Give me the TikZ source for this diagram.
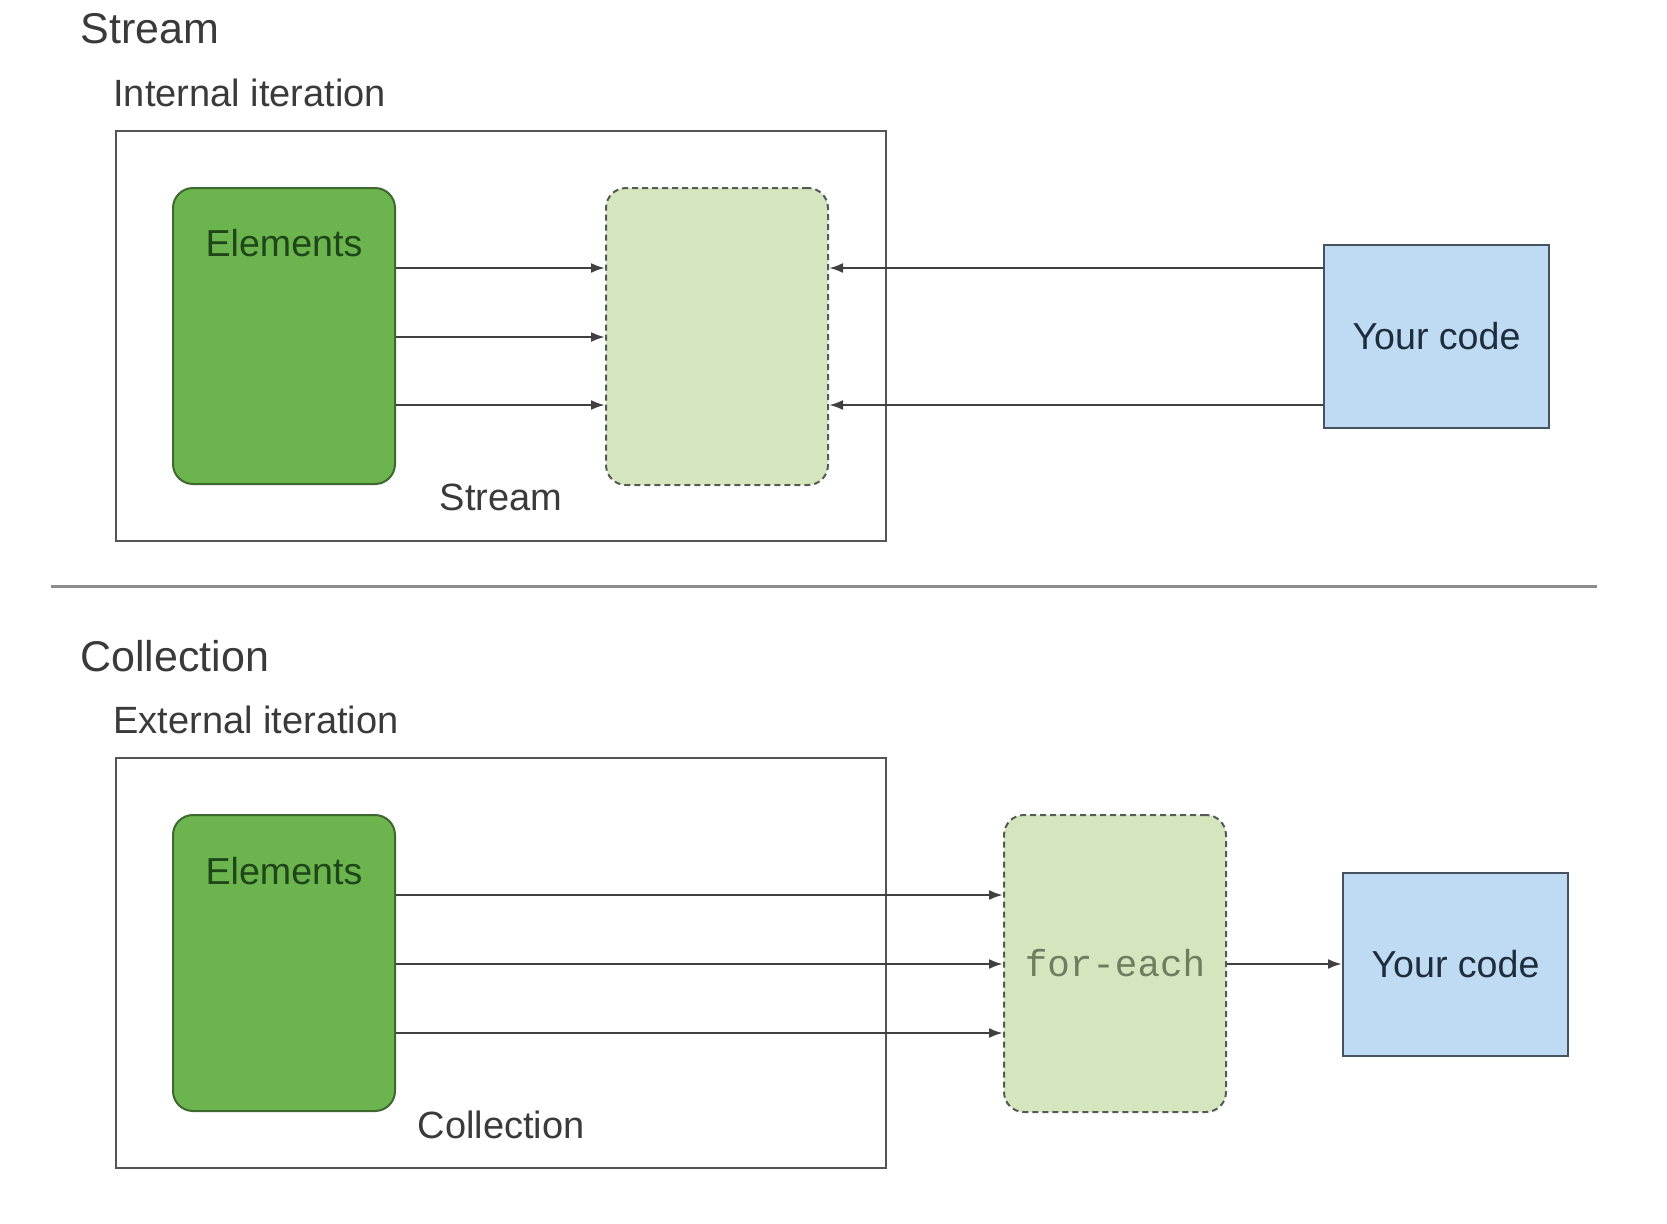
\documentclass[tikz,border=0pt]{standalone}
\usepackage{fontspec}
\setmainfont{Liberation Sans}
\newfontfamily\monof{Liberation Mono}
\usetikzlibrary{arrows.meta}
\definecolor{txt}{RGB}{58,58,58}
\definecolor{elfill}{RGB}{108,180,78}
\definecolor{eldraw}{RGB}{62,104,48}
\definecolor{eltext}{RGB}{30,70,25}
\definecolor{dsfill}{RGB}{213,229,190}
\definecolor{dsdraw}{RGB}{85,90,85}
\definecolor{ycfill}{RGB}{191,219,243}
\definecolor{ycdraw}{RGB}{70,82,95}
\definecolor{yctext}{RGB}{30,45,60}
\definecolor{boxdraw}{RGB}{85,85,85}
\definecolor{sepcol}{RGB}{140,140,140}
\definecolor{fetext}{RGB}{110,125,95}
\tikzset{
  title/.style={anchor=west,inner sep=0pt,text=txt,font=\fontsize{21.5pt}{24pt}\selectfont},
  subtitle/.style={anchor=west,inner sep=0pt,text=txt,font=\fontsize{19pt}{22pt}\selectfont},
  lbl/.style={inner sep=0pt,text=txt,font=\fontsize{19pt}{22pt}\selectfont},
  outer/.style={draw=boxdraw,line width=1pt,minimum width=385pt,minimum height=205pt,inner sep=0pt},
  elbox/.style={draw=eldraw,fill=elfill,line width=1pt,rounded corners=10pt,minimum width=111pt,minimum height=148pt,inner sep=0pt},
  eltxt/.style={inner sep=0pt,text=eltext,font=\fontsize{18.8pt}{22pt}\selectfont},
  dsbox/.style={draw=dsdraw,fill=dsfill,line width=1pt,dash pattern=on 3pt off 2pt,rounded corners=10pt,minimum width=111pt,minimum height=148.5pt,inner sep=0pt},
  ycbox/.style={draw=ycdraw,fill=ycfill,line width=1pt,minimum width=112.5pt,minimum height=91.5pt,inner sep=0pt,text=yctext,font=\fontsize{18.8pt}{22pt}\selectfont},
  arr/.style={draw=black!75,line width=1.2pt,-{Latex[length=7pt,width=5pt]}},
}
\begin{document}
\begin{tikzpicture}[x=0.5pt,y=-0.5pt]
\useasboundingbox[fill=white] (0,0) rectangle (1667,1223);
% ---------- Stream ----------
\node[title] (t1) at (80,29) {Stream};
\node[subtitle] (s1) at (113,92.5) {Internal iteration};
\node[outer] (o1) at (501,335.5) {};
\node[elbox] (e1) at (284,336) {};
\node[eltxt] (e1t) at (284,243) {Elements};
\node[dsbox] (d1) at (717,336.5) {};
\node[ycbox] (y1) at (1436.5,336) {Your code};
\node[lbl] (l1) at (501,497) {Stream};
\foreach \yy in {268,337,405}{
  \draw[arr] (e1.east |- 0,\yy) -- (d1.west |- 0,\yy);
}
\foreach \yy in {268,405}{
  \draw[arr] (y1.west |- 0,\yy) -- (d1.east |- 0,\yy);
}
% ---------- separator ----------
\coordinate (sepL) at (51,586);
\coordinate (sepR) at (1597,586);
\draw[sepcol,line width=1.5pt] (sepL) -- (sepR);
% ---------- Collection ----------
\node[title] (t2) at (80,656) {Collection};
\node[subtitle] (s2) at (113,720) {External iteration};
\node[outer] (o2) at (501,963) {};
\node[elbox] (e2) at (284,963) {};
\node[eltxt] (e2t) at (284,871) {Elements};
\node[dsbox,text=fetext,font=\monof\fontsize{18.8pt}{22pt}\selectfont] (d2) at (1115,963.5) {for-each};
\node[ycbox] (y2) at (1455.5,964.5) {Your code};
\node[lbl] (l2) at (501,1125) {Collection};
\foreach \yy in {895,964,1033}{
  \draw[arr] (e2.east |- 0,\yy) -- (d2.west |- 0,\yy);
}
\draw[arr] (d2.east |- 0,964) -- (y2.west |- 0,964);
\end{tikzpicture}
\end{document}
